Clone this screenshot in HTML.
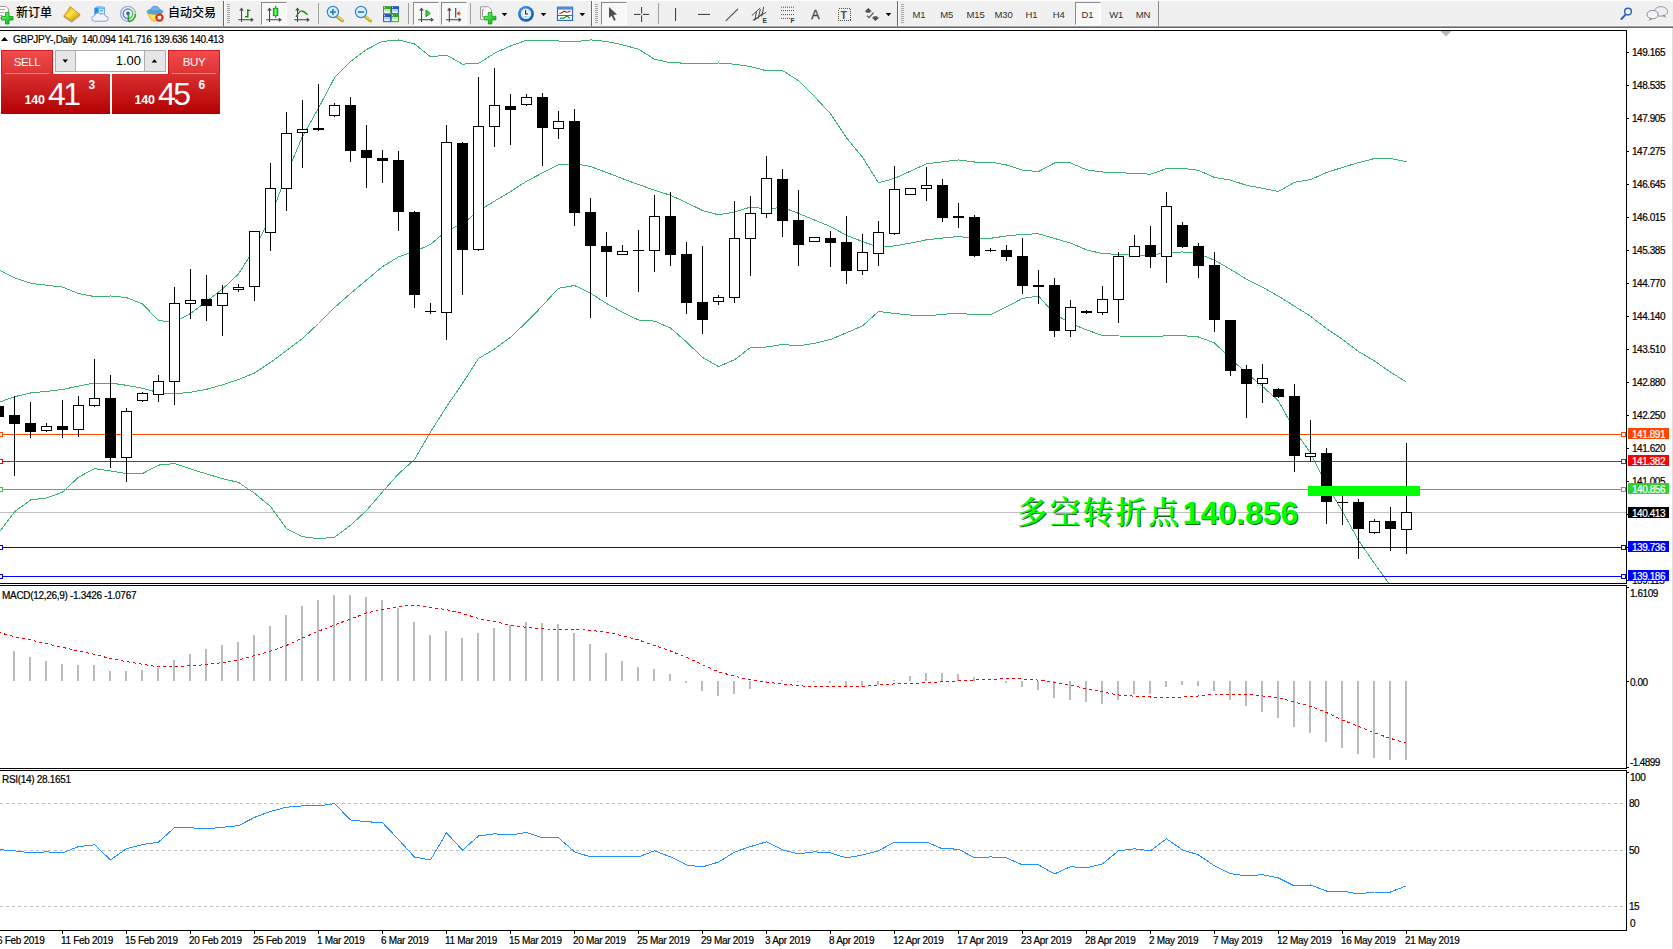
<!DOCTYPE html><html><head><meta charset="utf-8"><title>GBPJPY Daily</title><style>
html,body{margin:0;padding:0}
body{width:1673px;height:949px;overflow:hidden;background:#fff;position:relative;font-family:"Liberation Sans","Noto Sans CJK SC",sans-serif;}
.t{position:absolute;white-space:nowrap;color:#000;-webkit-text-stroke:0.2px #000;font-size:10px;letter-spacing:-0.45px;line-height:14px}
.pl{position:absolute;-webkit-text-stroke:0.2px #fff;left:1628px;width:41px;height:11px;color:#fff;font-size:10px;letter-spacing:-0.45px;line-height:13px;text-indent:4px;overflow:hidden;white-space:nowrap;box-sizing:border-box}
#tb{position:absolute;left:0;top:0;width:1673px;height:25px;background:#f0f0f0}
.tbt{position:absolute;top:5px;font-size:12px;line-height:16px;color:#000;font-weight:500;white-space:nowrap;font-family:"Liberation Sans","Noto Sans CJK SC",sans-serif}
.tf{position:absolute;top:8.6px;font-size:9.5px;line-height:12px;color:#303030;white-space:nowrap;letter-spacing:-0.15px}
.sep{position:absolute;top:3px;width:1px;height:20px;background:#a0a0a0}
.grip{position:absolute;top:3px;width:3px;height:20px;background:repeating-linear-gradient(to bottom,#a8a8a8 0,#a8a8a8 1px,#f0f0f0 1px,#f0f0f0 2px)}
.pressed{position:absolute;top:2px;height:23px;box-sizing:border-box;border:1px solid #fff;border-top-color:#8c8c8c;border-left-color:#8c8c8c;background:#f8f8f8}
</style></head><body>
<div id="tb"></div><div style="position:absolute;left:0;top:0;width:1673px;height:1px;background:#fff"></div>
<div style="position:absolute;left:0;top:25px;width:1673px;height:1px;background:#f5f5f5"></div>
<div style="position:absolute;left:0;top:26px;width:1673px;height:1px;background:#a0a0a0"></div>
<div style="position:absolute;left:0;top:27px;width:1673px;height:1px;background:#696969"></div>
<div style="position:absolute;left:1672px;top:28px;width:1px;height:921px;background:#e0e0e0"></div>
<div class="pressed" style="left:261px;width:26px"></div>
<div class="pressed" style="left:413px;width:26px"></div>
<div class="pressed" style="left:441px;width:26px"></div>
<div class="pressed" style="left:601px;width:26px"></div>
<div class="pressed" style="left:1075px;width:26px"></div>
<svg width="1673" height="28" viewBox="0 0 1673 28" style="position:absolute;left:0;top:0">
<defs><linearGradient id="gplus" x1="0" y1="0" x2="1" y2="1"><stop offset="0" stop-color="#7dff7d"/><stop offset="1" stop-color="#00a800"/></linearGradient><linearGradient id="ggold" x1="0" y1="0" x2="1" y2="1"><stop offset="0" stop-color="#c89018"/><stop offset=".45" stop-color="#ffe23c"/><stop offset="1" stop-color="#c08a10"/></linearGradient><linearGradient id="gblue" x1="0" y1="0" x2="1" y2="0"><stop offset="0" stop-color="#1e8cf0"/><stop offset="1" stop-color="#6ab8ff"/></linearGradient><linearGradient id="gsig" x1="0" y1="0" x2="1" y2="0"><stop offset="0" stop-color="#2a5fd0"/><stop offset=".5" stop-color="#3a78c8"/><stop offset="1" stop-color="#38a838"/></linearGradient><radialGradient id="gclk" cx=".4" cy=".35" r=".7"><stop offset="0" stop-color="#4aa8ff"/><stop offset="1" stop-color="#0a58b8"/></radialGradient><linearGradient id="ggr" x1="0" y1="0" x2="0" y2="1"><stop offset="0" stop-color="#2a9a2a"/><stop offset="1" stop-color="#5ab82a"/></linearGradient><linearGradient id="gbl" x1="0" y1="0" x2="0" y2="1"><stop offset="0" stop-color="#1848c0"/><stop offset="1" stop-color="#3a78e8"/></linearGradient><linearGradient id="gcand" x1="0" y1="0" x2="1" y2="0"><stop offset="0" stop-color="#00b000"/><stop offset=".5" stop-color="#80ff80"/><stop offset="1" stop-color="#00b000"/></linearGradient></defs>
<rect x="223" y="1" width="1" height="25" fill="#6a6a6a"/><rect x="224" y="1" width="1" height="25" fill="#fbfbfb"/>
<rect x="591" y="1" width="1" height="25" fill="#6a6a6a"/><rect x="592" y="1" width="1" height="25" fill="#fbfbfb"/>
<rect x="897" y="1" width="1" height="25" fill="#6a6a6a"/><rect x="898" y="1" width="1" height="25" fill="#fbfbfb"/>
<rect x="1158" y="1" width="1" height="25" fill="#8a8a8a"/>
<rect x="318" y="3" width="1" height="21" fill="#a0a0a0"/>
<rect x="408" y="3" width="1" height="21" fill="#a0a0a0"/>
<rect x="470" y="3" width="1" height="21" fill="#a0a0a0"/>
<rect x="658" y="3" width="1" height="21" fill="#a0a0a0"/>
<rect x="227" y="4" width="3" height="1" fill="#a6a6a6"/>
<rect x="227" y="6" width="3" height="1" fill="#a6a6a6"/>
<rect x="227" y="8" width="3" height="1" fill="#a6a6a6"/>
<rect x="227" y="10" width="3" height="1" fill="#a6a6a6"/>
<rect x="227" y="12" width="3" height="1" fill="#a6a6a6"/>
<rect x="227" y="14" width="3" height="1" fill="#a6a6a6"/>
<rect x="227" y="16" width="3" height="1" fill="#a6a6a6"/>
<rect x="227" y="18" width="3" height="1" fill="#a6a6a6"/>
<rect x="227" y="20" width="3" height="1" fill="#a6a6a6"/>
<rect x="227" y="22" width="3" height="1" fill="#a6a6a6"/>
<rect x="595" y="4" width="3" height="1" fill="#a6a6a6"/>
<rect x="595" y="6" width="3" height="1" fill="#a6a6a6"/>
<rect x="595" y="8" width="3" height="1" fill="#a6a6a6"/>
<rect x="595" y="10" width="3" height="1" fill="#a6a6a6"/>
<rect x="595" y="12" width="3" height="1" fill="#a6a6a6"/>
<rect x="595" y="14" width="3" height="1" fill="#a6a6a6"/>
<rect x="595" y="16" width="3" height="1" fill="#a6a6a6"/>
<rect x="595" y="18" width="3" height="1" fill="#a6a6a6"/>
<rect x="595" y="20" width="3" height="1" fill="#a6a6a6"/>
<rect x="595" y="22" width="3" height="1" fill="#a6a6a6"/>
<rect x="901" y="4" width="3" height="1" fill="#a6a6a6"/>
<rect x="901" y="6" width="3" height="1" fill="#a6a6a6"/>
<rect x="901" y="8" width="3" height="1" fill="#a6a6a6"/>
<rect x="901" y="10" width="3" height="1" fill="#a6a6a6"/>
<rect x="901" y="12" width="3" height="1" fill="#a6a6a6"/>
<rect x="901" y="14" width="3" height="1" fill="#a6a6a6"/>
<rect x="901" y="16" width="3" height="1" fill="#a6a6a6"/>
<rect x="901" y="18" width="3" height="1" fill="#a6a6a6"/>
<rect x="901" y="20" width="3" height="1" fill="#a6a6a6"/>
<rect x="901" y="22" width="3" height="1" fill="#a6a6a6"/>
<path d="M-1,6.5 H6 L8.5,9 V18 H-1 Z" fill="#fafafa" stroke="#9a9a9a" stroke-width="1"/>
<path d="M0,9.5 H5 M0,12.5 H4 M0,15.5 H3" stroke="#b0b0b0" stroke-width="1"/>
<path d="M5.5,12.5 h3.5 v4 h4 v3.5 h-4 v4 h-3.5 v-4 h-4 v-3.5 h4 z" fill="url(#gplus)" stroke="#0a9a0a" stroke-width=".8"/>
<path d="M70.2,6.8 Q67.5,11.8 64,15.8 L64,17 L71.8,22.2 L79.9,15.6 L79.9,14.4 Z" fill="#b8821c" stroke="#a8741a" stroke-width=".6" stroke-linejoin="round"/>
<path d="M70.2,6.8 Q67.5,11.8 64,15.6 L71.8,20.6 L79.8,14.4 Z" fill="url(#ggold)" stroke="#c08a1c" stroke-width=".5" stroke-linejoin="round"/>
<path d="M64.4,16.6 L71.8,21.4 L79.6,15.2" fill="none" stroke="#f0dc98" stroke-width=".6"/>
<polygon points="94.4,8 98,6 98,15.5 94.4,15.5" fill="#1e8cf0"/><polygon points="98,6 105,7 105,15.5 98,15.5" fill="#58aefc"/><polygon points="94.4,8 98,6 105,7 101.4,8.8" fill="#8accff" opacity=".7"/>
<polygon points="99.2,8.8 104,9.2 104,13.4 99.2,13.4" fill="#eaf4ff"/><rect x="100" y="10.2" width="3.2" height="1" fill="#3a88e0"/>
<path d="M94.4,21.2 a2.7,2.7 0 0 1 0.2,-5.4 a3.4,3.4 0 0 1 6.2,-1.4 a3.1,3.1 0 0 1 4.8,1.8 a2.5,2.5 0 0 1 0,5 Z" fill="#f2f6fc" stroke="#8aa2cc" stroke-width="1"/>
<g fill="none" stroke="url(#gsig)"><circle cx="128" cy="13.8" r="7.5" stroke-width="1.2" opacity=".5"/><circle cx="128" cy="13.8" r="4.8" stroke-width="1.4" opacity=".8"/></g>
<circle cx="128" cy="13.4" r="1.8" fill="#2a5fd0"/><rect x="127.6" y="13.5" width="1.6" height="8.2" fill="#28a028"/>
<path d="M129,21.6 A7.6,7.6 0 0 0 135.5,14" fill="none" stroke="#38a838" stroke-width="1.6"/>
<path d="M147.8,13.5 L162,12.5 L160,18 L155,21.5 L151,19.5 Z" fill="#ffe24a" stroke="#d8a018" stroke-width=".8"/>
<ellipse cx="155" cy="11.6" rx="8" ry="2.6" fill="#5aa6dc" stroke="#3a84c0" stroke-width=".6"/>
<path d="M150.5,11 Q151,6 155,6.3 Q159.5,6 160,11 Z" fill="#6cb4e6" stroke="#3a84c0" stroke-width=".6"/>
<circle cx="159.5" cy="17.6" r="4.2" fill="#e02810"/><rect x="157.7" y="15.8" width="3.6" height="3.6" fill="#fff"/>
<g fill="#484848"><rect x="241.0" y="9" width="1.05" height="13"/><rect x="238.3" y="19.2" width="14" height="1.05"/><polygon points="241.5,7.6 239.20000000000002,10.6 243.8,10.6"/><polygon points="253.8,19.7 250.8,17.4 250.8,22"/></g>
<path d="M247.8,9.2 V17.6 M247.8,10.4 H250.4 M245,16.6 H247.8" stroke="#0a8a0a" stroke-width="1.4" fill="none"/>
<g fill="#484848"><rect x="269.0" y="9" width="1.05" height="13"/><rect x="266.3" y="19.2" width="14" height="1.05"/><polygon points="269.5,7.6 267.2,10.6 271.8,10.6"/><polygon points="281.8,19.7 278.8,17.4 278.8,22"/></g>
<rect x="275" y="6" width="1.2" height="11.8" fill="#0a9a0a"/><rect x="273.3" y="8.3" width="4.6" height="7.4" fill="url(#gcand)" stroke="#0a9a0a" stroke-width=".8"/>
<g fill="#484848"><rect x="297.0" y="9" width="1.05" height="13"/><rect x="294.3" y="19.2" width="14" height="1.05"/><polygon points="297.5,7.6 295.2,10.6 299.8,10.6"/><polygon points="309.8,19.7 306.8,17.4 306.8,22"/></g>
<path d="M296,16.8 Q300,10.5 302.2,11 Q304.5,11.5 307.6,14.8" stroke="#1a8a1a" stroke-width="1.3" fill="none"/>
<path d="M336.9,16.6 L342.29999999999995,20.8" stroke="#c8a018" stroke-width="3.2" stroke-linecap="round"/>
<path d="M337.29999999999995,16.2 L342.5,20.2" stroke="#f4e058" stroke-width="1.2" stroke-linecap="round"/>
<circle cx="332.9" cy="12" r="5.6" fill="#d4eefb" stroke="#3a88c8" stroke-width="1.2"/>
<rect x="329.9" y="11.2" width="6" height="1.7" fill="#3a7fae"/>
<rect x="332.04999999999995" y="9" width="1.7" height="6" fill="#3a7fae"/>
<path d="M365,16.6 L370.4,20.8" stroke="#c8a018" stroke-width="3.2" stroke-linecap="round"/>
<path d="M365.4,16.2 L370.6,20.2" stroke="#f4e058" stroke-width="1.2" stroke-linecap="round"/>
<circle cx="361" cy="12" r="5.6" fill="#d4eefb" stroke="#3a88c8" stroke-width="1.2"/>
<rect x="358" y="11.2" width="6" height="1.7" fill="#3a7fae"/>
<rect x="383" y="6.2" width="8" height="8" fill="url(#ggr)"/><rect x="384.2" y="9.2" width="5.6" height="3.8" fill="#f4f8ff"/><rect x="385.2" y="10.2" width="3.6" height="1" fill="#9ad07a"/><rect x="384" y="7.2" width="1" height="1" fill="#fff"/>
<rect x="391" y="6.2" width="8" height="8" fill="url(#gbl)"/><rect x="392.2" y="9.2" width="5.6" height="3.8" fill="#f4f8ff"/><rect x="393.2" y="10.2" width="3.6" height="1" fill="#8ab0f0"/><rect x="392" y="7.2" width="1" height="1" fill="#fff"/>
<rect x="383" y="14.2" width="8" height="8" fill="url(#gbl)"/><rect x="384.2" y="17.2" width="5.6" height="3.8" fill="#f4f8ff"/><rect x="385.2" y="18.2" width="3.6" height="1" fill="#8ab0f0"/><rect x="384" y="15.2" width="1" height="1" fill="#fff"/>
<rect x="391" y="14.2" width="8" height="8" fill="url(#ggr)"/><rect x="392.2" y="17.2" width="5.6" height="3.8" fill="#f4f8ff"/><rect x="393.2" y="18.2" width="3.6" height="1" fill="#9ad07a"/><rect x="392" y="15.2" width="1" height="1" fill="#fff"/>
<g fill="#484848"><rect x="421.0" y="9" width="1.05" height="13"/><rect x="418.3" y="19.2" width="14" height="1.05"/><polygon points="421.5,7.6 419.2,10.6 423.8,10.6"/><polygon points="433.8,19.7 430.8,17.4 430.8,22"/></g>
<polygon points="426,10 426,16.8 430.2,13.4" fill="#50d050" stroke="#0a9a0a" stroke-width="1"/>
<g fill="#484848"><rect x="448.8" y="9" width="1.05" height="13"/><rect x="446.1" y="19.2" width="14" height="1.05"/><polygon points="449.3,7.6 447.0,10.6 451.6,10.6"/><polygon points="461.6,19.7 458.6,17.4 458.6,22"/></g>
<rect x="455" y="8" width="1.3" height="9.6" fill="#1a6aa8"/><polygon points="456.8,13.4 459.4,11.4 459,13 461,13.4 459,13.8 459.4,15.4" fill="#e04a10" stroke="#e04a10" stroke-width=".6"/>
<path d="M480.5,6.8 H488.5 L491.5,9.6 V19.4 H480.5 Z" fill="#fcfcfc" stroke="#9a9a9a" stroke-width="1"/><path d="M484,9 q-1.6,0 -1.6,2 v4.5 q0,2 1.6,2" fill="none" stroke="#807860" stroke-width=".9"/>
<path d="M488.3,12.5 h3.6 v3.8 h4 v3.6 h-4 v4 h-3.6 v-4 h-4 v-3.6 h4 z" fill="url(#gplus)" stroke="#0a9a0a" stroke-width=".8"/>
<polygon points="501.7,13 507.3,13 504.5,16.2" fill="#000"/>
<polygon points="540.7,13 546.3,13 543.5,16.2" fill="#000"/>
<polygon points="579.5,13 585.0999999999999,13 582.3,16.2" fill="#000"/>
<polygon points="885.7,13 891.3,13 888.5,16.2" fill="#000"/>
<circle cx="526" cy="13.8" r="7.9" fill="url(#gclk)"/><circle cx="526" cy="13.8" r="5.2" fill="#f4f8fc"/>
<path d="M525.6,10.2 V14 H528.2" stroke="#202020" stroke-width="1.1" fill="none"/>
<g fill="#7a8a9a"><rect x="525.6" y="9.2" width=".8" height=".9"/><rect x="525.6" y="17.6" width=".8" height=".9"/><rect x="521.6" y="13.5" width=".9" height=".8"/><rect x="529.6" y="13.5" width=".9" height=".8"/><rect x="523" y="10.6" width=".7" height=".7"/><rect x="528.6" y="10.6" width=".7" height=".7"/><rect x="523" y="16.4" width=".7" height=".7"/><rect x="528.6" y="16.4" width=".7" height=".7"/></g>
<rect x="524.6" y="16.2" width="2.6" height=".8" fill="#6ab0f0"/>
<rect x="557.5" y="7.2" width="15" height="13.2" fill="#fff" stroke="#2a6ac8" stroke-width="1.2"/><rect x="557.5" y="7.2" width="15" height="2.4" fill="#4a8ae0"/><rect x="557.5" y="15" width="15" height="1" fill="#2a6ac8"/>
<path d="M559.5,13.4 l2,-.4 l1.6,-1.2 l1.6,-.6 l1.6,1 l2,-.2 l2,-1.2" stroke="#a02010" stroke-width="1.1" fill="none"/>
<path d="M560,18.4 l2,-.4 l1.4,.4 l2,-1.4 l1.6,-.8 l1.4,.8 l1.4,1.4" stroke="#1a8a1a" stroke-width="1.1" fill="none"/>
<polygon points="609,7 609,18 611.6,15.8 614,20.8 615.8,20 613.4,15 617,14.6" fill="#505050"/>
<g fill="#484848"><rect x="641" y="7" width="1.1" height="6.4"/><rect x="641" y="15.4" width="1.1" height="6.6"/><rect x="634" y="13.9" width="6.4" height="1.1"/><rect x="642.8" y="13.9" width="6.4" height="1.1"/></g>
<rect x="675" y="8" width="1.1" height="13" fill="#484848"/><rect x="698" y="13.9" width="12" height="1.1" fill="#484848"/>
<path d="M725.8,20.8 L738,8.8" stroke="#484848" stroke-width="1.1"/>
<g stroke="#484848" stroke-width="1" fill="none"><path d="M751.8,15.6 L760.2,8"/><path d="M752.8,20.4 L766.2,12.2"/><path d="M755.2,19.8 L763,13"/><path d="M754.6,20.6 L756.6,11.6"/><path d="M758,18.8 L760.4,9.2"/><path d="M761.6,16.4 L763.8,6.8"/></g>
<text x="762.6" y="22.8" font-family="Liberation Sans,sans-serif" font-size="6.5" font-weight="bold" fill="#303030">E</text>
<line x1="781" y1="7.2" x2="794.5" y2="7.2" stroke="#505050" stroke-width="1" stroke-dasharray="1,1"/>
<line x1="781" y1="10.6" x2="794.5" y2="10.6" stroke="#505050" stroke-width="1" stroke-dasharray="1,1"/>
<line x1="781" y1="14.6" x2="794.5" y2="14.6" stroke="#505050" stroke-width="1" stroke-dasharray="1,1"/>
<line x1="781" y1="18.4" x2="790" y2="18.4" stroke="#505050" stroke-width="1" stroke-dasharray="1,1"/>
<text x="790.6" y="22.8" font-family="Liberation Sans,sans-serif" font-size="6.5" font-weight="bold" fill="#303030">F</text>
<text x="811.2" y="19" font-family="Liberation Sans,sans-serif" font-size="12.5" fill="#484848" stroke="#484848" stroke-width=".35">A</text>
<rect x="838.5" y="8.5" width="12" height="12" fill="none" stroke="#505050" stroke-width="1" stroke-dasharray="1,1" shape-rendering="crispEdges"/>
<text x="840.4" y="18.6" font-family="Liberation Sans,sans-serif" font-size="10.5" font-weight="bold" fill="#505050">T</text>
<g fill="#505050"><polygon points="868.2,8 872,11.4 870.2,11.4 870.2,12.8 866.2,12.8 866.2,11.4 864.6,11.4"/><polygon points="875.4,21 879.4,17.4 877.4,17.4 877.4,16.2 873.4,16.2 873.4,17.4 871.6,17.4"/></g>
<path d="M867,15.6 l2,2 l4.6,-5" stroke="#505050" stroke-width="1.2" fill="none"/>
<path d="M1625.6,14.6 L1621.4,19" stroke="#2a5fc4" stroke-width="2" stroke-linecap="round"/><circle cx="1628" cy="11.6" r="3.4" fill="#f4f8ff" stroke="#2a5fc4" stroke-width="1.4"/>
<ellipse cx="1661" cy="11.4" rx="6.6" ry="4.8" fill="#ececf4" stroke="#9a9a9a" stroke-width="1"/><polygon points="1662,15.6 1666,18 1664.6,15" fill="#8a8a8a"/>
<ellipse cx="1652.6" cy="14.6" rx="5.6" ry="4.2" fill="#f4f4fa" stroke="#8a8a8a" stroke-width="1"/><polygon points="1650,18.2 1649,21 1652.6,18.6" fill="#808080"/>
</svg>
<div class="tbt" style="left:16px">新订单</div>
<div class="tbt" style="left:168px">自动交易</div>
<div class="tf" style="left:899px;width:40px;text-align:center">M1</div>
<div class="tf" style="left:926.8px;width:40px;text-align:center">M5</div>
<div class="tf" style="left:955.5px;width:40px;text-align:center">M15</div>
<div class="tf" style="left:983.5px;width:40px;text-align:center">M30</div>
<div class="tf" style="left:1011.5px;width:40px;text-align:center">H1</div>
<div class="tf" style="left:1038.8px;width:40px;text-align:center">H4</div>
<div class="tf" style="left:1067.4px;width:40px;text-align:center">D1</div>
<div class="tf" style="left:1096.2px;width:40px;text-align:center">W1</div>
<div class="tf" style="left:1123px;width:40px;text-align:center">MN</div>
<svg id="chart" width="1673" height="949" viewBox="0 0 1673 949" style="position:absolute;left:0;top:0" shape-rendering="crispEdges">
<defs><clipPath id="cm"><rect x="0" y="31" width="1626" height="552"/></clipPath><clipPath id="cmacd"><rect x="0" y="586" width="1626" height="182"/></clipPath><clipPath id="crsi"><rect x="0" y="771" width="1626" height="159"/></clipPath></defs>
<rect x="0" y="30" width="1627" height="1" fill="#000"/>
<rect x="1626" y="30" width="1" height="554" fill="#000"/>
<rect x="1626" y="585" width="1" height="184" fill="#000"/>
<rect x="1626" y="770" width="1" height="161" fill="#000"/>
<rect x="1627" y="587" width="2" height="1" fill="#000"/>
<rect x="1627" y="681" width="2" height="1" fill="#000"/>
<rect x="1627" y="767" width="2" height="1" fill="#000"/>
<rect x="1627" y="772" width="2" height="1" fill="#000"/>
<rect x="0" y="583" width="1627" height="1" fill="#000"/>
<rect x="0" y="585" width="1627" height="1" fill="#000"/>
<rect x="0" y="768" width="1627" height="1" fill="#000"/>
<rect x="0" y="770" width="1627" height="1" fill="#000"/>
<rect x="0" y="930" width="1627" height="1" fill="#000"/>
<g clip-path="url(#cm)">
<rect x="0" y="512" width="1626" height="1" fill="#c0c0c0"/>
<polyline points="-1.5,269.8 14.5,277.7 30.5,283.3 46.5,285.2 62.5,287.1 78.5,293.5 94.5,296.6 110.5,296.0 126.5,297.6 142.5,303.9 158.5,320.6 174.5,322.2 190.5,313.5 206.5,301.5 222.5,289.0 238.5,274.0 254.5,248.6 270.5,217.0 286.5,174.3 302.5,136.4 318.5,108.2 334.5,77.8 350.5,61.6 366.5,49.5 382.5,41.4 398.5,40.0 414.5,43.9 430.5,56.8 446.5,55.1 462.5,64.1 478.5,63.5 494.5,53.2 510.5,46.0 526.5,40.2 542.5,40.1 558.5,41.0 574.5,41.8 590.5,39.9 606.5,41.5 622.5,44.8 638.5,49.2 654.5,59.2 670.5,62.7 686.5,63.2 702.5,63.6 718.5,63.0 734.5,64.2 750.5,66.5 766.5,70.8 782.5,70.5 798.5,80.7 814.5,96.6 830.5,113.8 846.5,137.8 862.5,157.2 878.5,182.8 894.5,178.4 910.5,171.1 926.5,163.8 942.5,161.8 958.5,159.9 974.5,162.0 990.5,162.0 1006.5,165.0 1022.5,170.2 1038.5,171.6 1054.5,163.0 1070.5,162.9 1086.5,169.8 1102.5,172.0 1118.5,172.7 1134.5,173.4 1150.5,174.2 1166.5,168.6 1182.5,168.3 1198.5,170.3 1214.5,177.4 1230.5,180.1 1246.5,185.3 1262.5,188.2 1278.5,191.5 1294.5,182.2 1310.5,179.6 1326.5,172.6 1342.5,167.4 1358.5,162.6 1374.5,158.5 1390.5,158.5 1406.5,161.8" fill="none" stroke="#3cb371" stroke-width="1" shape-rendering="crispEdges" />
<polyline points="-1.5,402.5 14.5,396.7 30.5,393.0 46.5,391.4 62.5,389.5 78.5,386.1 94.5,383.0 110.5,383.0 126.5,385.3 142.5,388.2 158.5,392.7 174.5,394.0 190.5,392.2 206.5,389.3 222.5,384.8 238.5,379.5 254.5,373.0 270.5,362.4 286.5,350.5 302.5,338.5 318.5,323.5 334.5,307.5 350.5,293.5 366.5,280.1 382.5,266.6 398.5,256.9 414.5,251.7 430.5,244.4 446.5,230.9 462.5,223.8 478.5,211.0 494.5,201.1 510.5,191.6 526.5,181.2 542.5,172.9 558.5,164.6 574.5,163.7 590.5,166.5 606.5,172.5 622.5,178.6 638.5,184.6 654.5,190.1 670.5,195.3 686.5,202.6 702.5,210.5 718.5,214.8 734.5,212.0 750.5,207.1 766.5,208.9 782.5,207.4 798.5,213.4 814.5,220.0 830.5,226.6 846.5,235.3 862.5,241.6 878.5,247.1 894.5,245.9 910.5,243.1 926.5,239.8 942.5,238.1 958.5,236.5 974.5,238.5 990.5,238.3 1006.5,236.0 1022.5,234.3 1038.5,233.8 1054.5,238.4 1070.5,243.1 1086.5,249.8 1102.5,253.7 1118.5,254.3 1134.5,254.8 1150.5,255.5 1166.5,252.2 1182.5,252.0 1198.5,253.6 1214.5,260.2 1230.5,269.3 1246.5,279.2 1262.5,287.2 1278.5,296.2 1294.5,306.2 1310.5,316.3 1326.5,328.6 1342.5,339.4 1358.5,351.5 1374.5,361.0 1390.5,372.1 1406.5,382.1" fill="none" stroke="#3cb371" stroke-width="1" shape-rendering="crispEdges" />
<polyline points="-1.5,533.1 14.5,511.8 30.5,500.0 46.5,498.0 62.5,492.2 78.5,477.2 94.5,468.6 110.5,470.9 126.5,473.6 142.5,473.6 158.5,465.1 174.5,463.6 190.5,468.9 206.5,473.9 222.5,478.7 238.5,482.4 254.5,493.2 270.5,506.5 286.5,528.6 302.5,536.7 318.5,538.7 334.5,537.2 350.5,525.3 366.5,510.6 382.5,491.8 398.5,473.8 414.5,459.6 430.5,432.0 446.5,406.8 462.5,383.4 478.5,358.5 494.5,349.0 510.5,337.2 526.5,322.2 542.5,305.7 558.5,288.2 574.5,285.5 590.5,293.2 606.5,303.4 622.5,312.3 638.5,320.0 654.5,321.1 670.5,328.0 686.5,342.0 702.5,357.5 718.5,366.6 734.5,359.7 750.5,347.6 766.5,347.0 782.5,344.4 798.5,346.0 814.5,343.3 830.5,339.5 846.5,332.8 862.5,325.9 878.5,311.5 894.5,313.5 910.5,315.1 926.5,315.8 942.5,314.4 958.5,313.1 974.5,314.9 990.5,314.6 1006.5,306.9 1022.5,298.4 1038.5,296.0 1054.5,313.8 1070.5,323.3 1086.5,329.9 1102.5,335.5 1118.5,336.0 1134.5,336.2 1150.5,336.7 1166.5,335.8 1182.5,335.6 1198.5,337.0 1214.5,342.9 1230.5,358.5 1246.5,373.1 1262.5,386.3 1278.5,400.9 1294.5,430.1 1310.5,453.0 1326.5,484.6 1342.5,511.4 1358.5,540.4 1374.5,563.6 1390.5,585.7 1406.5,602.3" fill="none" stroke="#3cb371" stroke-width="1" shape-rendering="crispEdges" />
<rect x="0" y="434" width="1626" height="1" fill="#ff4500"/>
<rect x="0" y="461" width="1626" height="1" fill="#ff0000"/>
<rect x="0" y="489" width="1626" height="1" fill="#32cd32"/>
<rect x="0" y="547" width="1626" height="1" fill="#0000ff"/>
<rect x="0" y="576" width="1626" height="1" fill="#0000ff"/>
<rect x="-2" y="406" width="1" height="11" fill="#000"/>
<rect x="-7" y="406" width="11" height="11" fill="#000"/>
<rect x="14" y="396" width="1" height="80" fill="#000"/>
<rect x="9" y="415" width="11" height="9" fill="#000"/>
<rect x="30" y="402" width="1" height="36" fill="#000"/>
<rect x="25" y="423" width="11" height="9" fill="#000"/>
<rect x="46" y="423" width="1" height="9" fill="#000"/>
<rect x="41.5" y="426.5" width="10" height="4" fill="#fff" stroke="#000" stroke-width="1"/>
<rect x="62" y="400" width="1" height="38" fill="#000"/>
<rect x="57" y="426" width="11" height="4" fill="#000"/>
<rect x="78" y="396" width="1" height="41" fill="#000"/>
<rect x="73.5" y="405.5" width="10" height="24" fill="#fff" stroke="#000" stroke-width="1"/>
<rect x="94" y="359" width="1" height="48" fill="#000"/>
<rect x="89.5" y="398.5" width="10" height="7" fill="#fff" stroke="#000" stroke-width="1"/>
<rect x="110" y="375" width="1" height="93" fill="#000"/>
<rect x="105" y="398" width="11" height="60" fill="#000"/>
<rect x="126" y="408" width="1" height="74" fill="#000"/>
<rect x="121.5" y="411.5" width="10" height="46" fill="#fff" stroke="#000" stroke-width="1"/>
<rect x="142" y="392" width="1" height="10" fill="#000"/>
<rect x="137.5" y="393.5" width="10" height="7" fill="#fff" stroke="#000" stroke-width="1"/>
<rect x="158" y="375" width="1" height="27" fill="#000"/>
<rect x="153.5" y="381.5" width="10" height="13" fill="#fff" stroke="#000" stroke-width="1"/>
<rect x="174" y="287" width="1" height="118" fill="#000"/>
<rect x="169.5" y="303.5" width="10" height="78" fill="#fff" stroke="#000" stroke-width="1"/>
<rect x="190" y="269" width="1" height="50" fill="#000"/>
<rect x="185.5" y="300.5" width="10" height="3" fill="#fff" stroke="#000" stroke-width="1"/>
<rect x="206" y="275" width="1" height="46" fill="#000"/>
<rect x="201" y="299" width="11" height="7" fill="#000"/>
<rect x="222" y="285" width="1" height="51" fill="#000"/>
<rect x="217.5" y="293.5" width="10" height="12" fill="#fff" stroke="#000" stroke-width="1"/>
<rect x="238" y="284" width="1" height="8" fill="#000"/>
<rect x="233.5" y="287.5" width="10" height="2" fill="#fff" stroke="#000" stroke-width="1"/>
<rect x="254" y="231" width="1" height="70" fill="#000"/>
<rect x="249.5" y="231.5" width="10" height="55" fill="#fff" stroke="#000" stroke-width="1"/>
<rect x="270" y="163" width="1" height="88" fill="#000"/>
<rect x="265.5" y="188.5" width="10" height="44" fill="#fff" stroke="#000" stroke-width="1"/>
<rect x="286" y="112" width="1" height="99" fill="#000"/>
<rect x="281.5" y="133.5" width="10" height="55" fill="#fff" stroke="#000" stroke-width="1"/>
<rect x="302" y="100" width="1" height="68" fill="#000"/>
<rect x="297.5" y="129.5" width="10" height="3" fill="#fff" stroke="#000" stroke-width="1"/>
<rect x="318" y="84" width="1" height="47" fill="#000"/>
<rect x="313" y="128" width="11" height="2" fill="#000"/>
<rect x="334" y="103" width="1" height="14" fill="#000"/>
<rect x="329.5" y="105.5" width="10" height="10" fill="#fff" stroke="#000" stroke-width="1"/>
<rect x="350" y="97" width="1" height="65" fill="#000"/>
<rect x="345" y="105" width="11" height="46" fill="#000"/>
<rect x="366" y="125" width="1" height="63" fill="#000"/>
<rect x="361" y="150" width="11" height="8" fill="#000"/>
<rect x="382" y="150" width="1" height="33" fill="#000"/>
<rect x="377" y="158" width="11" height="3" fill="#000"/>
<rect x="398" y="151" width="1" height="80" fill="#000"/>
<rect x="393" y="160" width="11" height="52" fill="#000"/>
<rect x="414" y="211" width="1" height="97" fill="#000"/>
<rect x="409" y="212" width="11" height="83" fill="#000"/>
<rect x="430" y="303" width="1" height="11" fill="#000"/>
<rect x="425" y="311" width="11" height="1" fill="#000"/>
<rect x="446" y="125" width="1" height="215" fill="#000"/>
<rect x="441.5" y="142.5" width="10" height="170" fill="#fff" stroke="#000" stroke-width="1"/>
<rect x="462" y="142" width="1" height="153" fill="#000"/>
<rect x="457" y="143" width="11" height="107" fill="#000"/>
<rect x="478" y="77" width="1" height="174" fill="#000"/>
<rect x="473.5" y="126.5" width="10" height="123" fill="#fff" stroke="#000" stroke-width="1"/>
<rect x="494" y="68" width="1" height="79" fill="#000"/>
<rect x="489.5" y="105.5" width="10" height="21" fill="#fff" stroke="#000" stroke-width="1"/>
<rect x="510" y="94" width="1" height="51" fill="#000"/>
<rect x="505" y="106" width="11" height="4" fill="#000"/>
<rect x="526" y="94" width="1" height="12" fill="#000"/>
<rect x="521.5" y="97.5" width="10" height="7" fill="#fff" stroke="#000" stroke-width="1"/>
<rect x="542" y="93" width="1" height="73" fill="#000"/>
<rect x="537" y="97" width="11" height="31" fill="#000"/>
<rect x="558" y="111" width="1" height="28" fill="#000"/>
<rect x="553.5" y="121.5" width="10" height="7" fill="#fff" stroke="#000" stroke-width="1"/>
<rect x="574" y="109" width="1" height="117" fill="#000"/>
<rect x="569" y="121" width="11" height="92" fill="#000"/>
<rect x="590" y="198" width="1" height="120" fill="#000"/>
<rect x="585" y="212" width="11" height="34" fill="#000"/>
<rect x="606" y="232" width="1" height="65" fill="#000"/>
<rect x="601" y="246" width="11" height="6" fill="#000"/>
<rect x="622" y="245" width="1" height="10" fill="#000"/>
<rect x="617.5" y="251.5" width="10" height="3" fill="#fff" stroke="#000" stroke-width="1"/>
<rect x="638" y="230" width="1" height="62" fill="#000"/>
<rect x="633" y="250" width="11" height="1" fill="#000"/>
<rect x="654" y="195" width="1" height="77" fill="#000"/>
<rect x="649.5" y="216.5" width="10" height="34" fill="#fff" stroke="#000" stroke-width="1"/>
<rect x="670" y="192" width="1" height="74" fill="#000"/>
<rect x="665" y="216" width="11" height="39" fill="#000"/>
<rect x="686" y="242" width="1" height="72" fill="#000"/>
<rect x="681" y="254" width="11" height="49" fill="#000"/>
<rect x="702" y="246" width="1" height="88" fill="#000"/>
<rect x="697" y="302" width="11" height="18" fill="#000"/>
<rect x="718" y="295" width="1" height="10" fill="#000"/>
<rect x="713.5" y="297.5" width="10" height="4" fill="#fff" stroke="#000" stroke-width="1"/>
<rect x="734" y="201" width="1" height="102" fill="#000"/>
<rect x="729.5" y="238.5" width="10" height="59" fill="#fff" stroke="#000" stroke-width="1"/>
<rect x="750" y="196" width="1" height="80" fill="#000"/>
<rect x="745.5" y="213.5" width="10" height="25" fill="#fff" stroke="#000" stroke-width="1"/>
<rect x="766" y="156" width="1" height="62" fill="#000"/>
<rect x="761.5" y="178.5" width="10" height="35" fill="#fff" stroke="#000" stroke-width="1"/>
<rect x="782" y="169" width="1" height="68" fill="#000"/>
<rect x="777" y="179" width="11" height="42" fill="#000"/>
<rect x="798" y="190" width="1" height="76" fill="#000"/>
<rect x="793" y="220" width="11" height="25" fill="#000"/>
<rect x="814" y="237" width="1" height="5" fill="#000"/>
<rect x="809.5" y="237.5" width="10" height="4" fill="#fff" stroke="#000" stroke-width="1"/>
<rect x="830" y="231" width="1" height="36" fill="#000"/>
<rect x="825" y="238" width="11" height="5" fill="#000"/>
<rect x="846" y="216" width="1" height="68" fill="#000"/>
<rect x="841" y="242" width="11" height="29" fill="#000"/>
<rect x="862" y="234" width="1" height="41" fill="#000"/>
<rect x="857.5" y="252.5" width="10" height="18" fill="#fff" stroke="#000" stroke-width="1"/>
<rect x="878" y="221" width="1" height="45" fill="#000"/>
<rect x="873.5" y="232.5" width="10" height="21" fill="#fff" stroke="#000" stroke-width="1"/>
<rect x="894" y="166" width="1" height="69" fill="#000"/>
<rect x="889.5" y="189.5" width="10" height="44" fill="#fff" stroke="#000" stroke-width="1"/>
<rect x="910" y="188" width="1" height="7" fill="#000"/>
<rect x="905.5" y="188.5" width="10" height="6" fill="#fff" stroke="#000" stroke-width="1"/>
<rect x="926" y="167" width="1" height="34" fill="#000"/>
<rect x="921.5" y="185.5" width="10" height="3" fill="#fff" stroke="#000" stroke-width="1"/>
<rect x="942" y="179" width="1" height="43" fill="#000"/>
<rect x="937" y="185" width="11" height="33" fill="#000"/>
<rect x="958" y="203" width="1" height="25" fill="#000"/>
<rect x="953" y="216" width="11" height="2" fill="#000"/>
<rect x="974" y="215" width="1" height="42" fill="#000"/>
<rect x="969" y="217" width="11" height="39" fill="#000"/>
<rect x="990" y="248" width="1" height="4" fill="#000"/>
<rect x="985" y="250" width="11" height="1" fill="#000"/>
<rect x="1006" y="245" width="1" height="16" fill="#000"/>
<rect x="1001" y="250" width="11" height="7" fill="#000"/>
<rect x="1022" y="238" width="1" height="56" fill="#000"/>
<rect x="1017" y="256" width="11" height="30" fill="#000"/>
<rect x="1038" y="270" width="1" height="34" fill="#000"/>
<rect x="1033" y="285" width="11" height="2" fill="#000"/>
<rect x="1054" y="278" width="1" height="59" fill="#000"/>
<rect x="1049" y="285" width="11" height="46" fill="#000"/>
<rect x="1070" y="300" width="1" height="37" fill="#000"/>
<rect x="1065.5" y="307.5" width="10" height="23" fill="#fff" stroke="#000" stroke-width="1"/>
<rect x="1086" y="310" width="1" height="4" fill="#000"/>
<rect x="1081" y="311" width="11" height="2" fill="#000"/>
<rect x="1102" y="286" width="1" height="29" fill="#000"/>
<rect x="1097.5" y="299.5" width="10" height="13" fill="#fff" stroke="#000" stroke-width="1"/>
<rect x="1118" y="252" width="1" height="71" fill="#000"/>
<rect x="1113.5" y="256.5" width="10" height="43" fill="#fff" stroke="#000" stroke-width="1"/>
<rect x="1134" y="235" width="1" height="22" fill="#000"/>
<rect x="1129.5" y="246.5" width="10" height="10" fill="#fff" stroke="#000" stroke-width="1"/>
<rect x="1150" y="226" width="1" height="42" fill="#000"/>
<rect x="1145" y="245" width="11" height="12" fill="#000"/>
<rect x="1166" y="192" width="1" height="91" fill="#000"/>
<rect x="1161.5" y="206.5" width="10" height="50" fill="#fff" stroke="#000" stroke-width="1"/>
<rect x="1182" y="222" width="1" height="26" fill="#000"/>
<rect x="1177" y="225" width="11" height="22" fill="#000"/>
<rect x="1198" y="243" width="1" height="35" fill="#000"/>
<rect x="1193" y="246" width="11" height="20" fill="#000"/>
<rect x="1214" y="252" width="1" height="80" fill="#000"/>
<rect x="1209" y="265" width="11" height="55" fill="#000"/>
<rect x="1230" y="320" width="1" height="56" fill="#000"/>
<rect x="1225" y="320" width="11" height="51" fill="#000"/>
<rect x="1246" y="365" width="1" height="53" fill="#000"/>
<rect x="1241" y="369" width="11" height="15" fill="#000"/>
<rect x="1262" y="364" width="1" height="39" fill="#000"/>
<rect x="1257.5" y="378.5" width="10" height="5" fill="#fff" stroke="#000" stroke-width="1"/>
<rect x="1278" y="388" width="1" height="10" fill="#000"/>
<rect x="1273" y="389" width="11" height="8" fill="#000"/>
<rect x="1294" y="384" width="1" height="88" fill="#000"/>
<rect x="1289" y="396" width="11" height="60" fill="#000"/>
<rect x="1310" y="420" width="1" height="42" fill="#000"/>
<rect x="1305.5" y="453.5" width="10" height="3" fill="#fff" stroke="#000" stroke-width="1"/>
<rect x="1326" y="448" width="1" height="76" fill="#000"/>
<rect x="1321" y="453" width="11" height="49" fill="#000"/>
<rect x="1342" y="496" width="1" height="29" fill="#000"/>
<rect x="1337" y="502" width="11" height="1" fill="#000"/>
<rect x="1358" y="499" width="1" height="60" fill="#000"/>
<rect x="1353" y="502" width="11" height="27" fill="#000"/>
<rect x="1374" y="519" width="1" height="15" fill="#000"/>
<rect x="1369.5" y="521.5" width="10" height="11" fill="#fff" stroke="#000" stroke-width="1"/>
<rect x="1390" y="507" width="1" height="44" fill="#000"/>
<rect x="1385" y="521" width="11" height="8" fill="#000"/>
<rect x="1406" y="443" width="1" height="111" fill="#000"/>
<rect x="1401.5" y="512.5" width="10" height="17" fill="#fff" stroke="#000" stroke-width="1"/>
<rect x="1308" y="486" width="112" height="10" fill="#00ff00"/>
<rect x="-1.5" y="432.5" width="4" height="4" fill="#fff" stroke="#ff4500" stroke-width="1"/>
<rect x="1621.5" y="432.5" width="4" height="4" fill="#fff" stroke="#ff4500" stroke-width="1"/>
<rect x="-1.5" y="459.5" width="4" height="4" fill="#fff" stroke="#ff0000" stroke-width="1"/>
<rect x="1621.5" y="459.5" width="4" height="4" fill="#fff" stroke="#ff0000" stroke-width="1"/>
<rect x="-1.5" y="487.5" width="4" height="4" fill="#fff" stroke="#32cd32" stroke-width="1"/>
<rect x="1621.5" y="487.5" width="4" height="4" fill="#fff" stroke="#32cd32" stroke-width="1"/>
<rect x="-1.5" y="545.5" width="4" height="4" fill="#fff" stroke="#0000ff" stroke-width="1"/>
<rect x="1621.5" y="545.5" width="4" height="4" fill="#fff" stroke="#0000ff" stroke-width="1"/>
<rect x="-1.5" y="574.5" width="4" height="4" fill="#fff" stroke="#0000ff" stroke-width="1"/>
<rect x="1621.5" y="574.5" width="4" height="4" fill="#fff" stroke="#0000ff" stroke-width="1"/>
</g>
<g clip-path="url(#cmacd)">
<rect x="13" y="651" width="2" height="30" fill="#bababa"/>
<rect x="29" y="657" width="2" height="24" fill="#bababa"/>
<rect x="45" y="661" width="2" height="20" fill="#bababa"/>
<rect x="61" y="664" width="2" height="17" fill="#bababa"/>
<rect x="77" y="665" width="2" height="16" fill="#bababa"/>
<rect x="93" y="665" width="2" height="16" fill="#bababa"/>
<rect x="109" y="671" width="2" height="10" fill="#bababa"/>
<rect x="125" y="671" width="2" height="10" fill="#bababa"/>
<rect x="141" y="670" width="2" height="11" fill="#bababa"/>
<rect x="157" y="668" width="2" height="13" fill="#bababa"/>
<rect x="173" y="660" width="2" height="21" fill="#bababa"/>
<rect x="189" y="654" width="2" height="27" fill="#bababa"/>
<rect x="205" y="649" width="2" height="32" fill="#bababa"/>
<rect x="221" y="645" width="2" height="36" fill="#bababa"/>
<rect x="237" y="642" width="2" height="39" fill="#bababa"/>
<rect x="253" y="635" width="2" height="46" fill="#bababa"/>
<rect x="269" y="626" width="2" height="55" fill="#bababa"/>
<rect x="285" y="615" width="2" height="66" fill="#bababa"/>
<rect x="301" y="606" width="2" height="75" fill="#bababa"/>
<rect x="317" y="600" width="2" height="81" fill="#bababa"/>
<rect x="333" y="595" width="2" height="86" fill="#bababa"/>
<rect x="349" y="595" width="2" height="86" fill="#bababa"/>
<rect x="365" y="597" width="2" height="84" fill="#bababa"/>
<rect x="381" y="600" width="2" height="81" fill="#bababa"/>
<rect x="397" y="608" width="2" height="73" fill="#bababa"/>
<rect x="413" y="622" width="2" height="59" fill="#bababa"/>
<rect x="429" y="635" width="2" height="46" fill="#bababa"/>
<rect x="445" y="631" width="2" height="50" fill="#bababa"/>
<rect x="461" y="638" width="2" height="43" fill="#bababa"/>
<rect x="477" y="633" width="2" height="48" fill="#bababa"/>
<rect x="493" y="628" width="2" height="53" fill="#bababa"/>
<rect x="509" y="625" width="2" height="56" fill="#bababa"/>
<rect x="525" y="622" width="2" height="59" fill="#bababa"/>
<rect x="541" y="623" width="2" height="58" fill="#bababa"/>
<rect x="557" y="624" width="2" height="57" fill="#bababa"/>
<rect x="573" y="633" width="2" height="48" fill="#bababa"/>
<rect x="589" y="644" width="2" height="37" fill="#bababa"/>
<rect x="605" y="653" width="2" height="28" fill="#bababa"/>
<rect x="621" y="661" width="2" height="20" fill="#bababa"/>
<rect x="637" y="667" width="2" height="14" fill="#bababa"/>
<rect x="653" y="669" width="2" height="12" fill="#bababa"/>
<rect x="669" y="674" width="2" height="7" fill="#bababa"/>
<rect x="685" y="681" width="2" height="2" fill="#bababa"/>
<rect x="701" y="681" width="2" height="10" fill="#bababa"/>
<rect x="717" y="681" width="2" height="15" fill="#bababa"/>
<rect x="733" y="681" width="2" height="13" fill="#bababa"/>
<rect x="749" y="681" width="2" height="8" fill="#bababa"/>
<rect x="765" y="681" width="2" height="1" fill="#bababa"/>
<rect x="781" y="680" width="2" height="1" fill="#bababa"/>
<rect x="797" y="681" width="2" height="1" fill="#bababa"/>
<rect x="813" y="681" width="2" height="1" fill="#bababa"/>
<rect x="829" y="681" width="2" height="2" fill="#bababa"/>
<rect x="845" y="681" width="2" height="5" fill="#bababa"/>
<rect x="861" y="681" width="2" height="6" fill="#bababa"/>
<rect x="877" y="681" width="2" height="4" fill="#bababa"/>
<rect x="893" y="680" width="2" height="1" fill="#bababa"/>
<rect x="909" y="676" width="2" height="5" fill="#bababa"/>
<rect x="925" y="673" width="2" height="8" fill="#bababa"/>
<rect x="941" y="673" width="2" height="8" fill="#bababa"/>
<rect x="957" y="674" width="2" height="7" fill="#bababa"/>
<rect x="973" y="677" width="2" height="4" fill="#bababa"/>
<rect x="1005" y="681" width="2" height="2" fill="#bababa"/>
<rect x="1021" y="681" width="2" height="6" fill="#bababa"/>
<rect x="1037" y="681" width="2" height="9" fill="#bababa"/>
<rect x="1053" y="681" width="2" height="17" fill="#bababa"/>
<rect x="1069" y="681" width="2" height="19" fill="#bababa"/>
<rect x="1085" y="681" width="2" height="21" fill="#bababa"/>
<rect x="1101" y="681" width="2" height="23" fill="#bababa"/>
<rect x="1117" y="681" width="2" height="19" fill="#bababa"/>
<rect x="1133" y="681" width="2" height="13" fill="#bababa"/>
<rect x="1149" y="681" width="2" height="13" fill="#bababa"/>
<rect x="1165" y="681" width="2" height="6" fill="#bababa"/>
<rect x="1181" y="681" width="2" height="4" fill="#bababa"/>
<rect x="1197" y="681" width="2" height="5" fill="#bababa"/>
<rect x="1213" y="681" width="2" height="10" fill="#bababa"/>
<rect x="1229" y="681" width="2" height="19" fill="#bababa"/>
<rect x="1245" y="681" width="2" height="25" fill="#bababa"/>
<rect x="1261" y="681" width="2" height="31" fill="#bababa"/>
<rect x="1277" y="681" width="2" height="37" fill="#bababa"/>
<rect x="1293" y="681" width="2" height="46" fill="#bababa"/>
<rect x="1309" y="681" width="2" height="52" fill="#bababa"/>
<rect x="1325" y="681" width="2" height="61" fill="#bababa"/>
<rect x="1341" y="681" width="2" height="67" fill="#bababa"/>
<rect x="1357" y="681" width="2" height="73" fill="#bababa"/>
<rect x="1373" y="681" width="2" height="77" fill="#bababa"/>
<rect x="1389" y="681" width="2" height="79" fill="#bababa"/>
<rect x="1405" y="681" width="2" height="79" fill="#bababa"/>
<polyline points="-1.5,632.4 14.5,636.7 30.5,640.0 46.5,643.7 62.5,647.3 78.5,651.0 94.5,654.3 110.5,658.6 126.5,661.6 142.5,664.3 158.5,666.8 174.5,666.8 190.5,665.8 206.5,664.6 222.5,662.6 238.5,660.1 254.5,655.5 270.5,651.3 286.5,645.5 302.5,638.0 318.5,631.2 334.5,624.9 350.5,619.1 366.5,612.9 382.5,609.6 398.5,606.6 414.5,605.1 430.5,607.6 446.5,609.6 462.5,613.4 478.5,618.6 494.5,621.6 510.5,625.2 526.5,627.4 542.5,628.7 558.5,629.7 574.5,629.2 590.5,630.4 606.5,632.2 622.5,635.7 638.5,640.0 654.5,645.5 670.5,651.0 686.5,657.3 702.5,664.8 718.5,671.9 734.5,676.1 750.5,679.9 766.5,682.2 782.5,683.9 798.5,685.7 814.5,686.9 830.5,686.9 846.5,686.9 862.5,686.4 878.5,684.9 894.5,683.9 910.5,683.7 926.5,682.4 942.5,681.9 958.5,680.9 974.5,679.9 990.5,679.1 1006.5,678.9 1022.5,678.9 1038.5,680.1 1054.5,682.4 1070.5,684.9 1086.5,688.9 1102.5,691.9 1118.5,695.0 1134.5,696.2 1150.5,697.0 1166.5,697.0 1182.5,697.0 1198.5,696.0 1214.5,694.0 1230.5,694.0 1246.5,694.0 1262.5,696.0 1278.5,697.7 1294.5,702.0 1310.5,706.3 1326.5,712.5 1342.5,720.1 1358.5,726.3 1374.5,732.9 1390.5,738.4 1406.5,743.2" fill="none" stroke="#ff0000" stroke-width="1" stroke-dasharray="3,3" shape-rendering="crispEdges"/>
</g>
<g clip-path="url(#crsi)">
<line x1="0" y1="803.5" x2="1626" y2="803.5" stroke="#c0c0c0" stroke-width="1" stroke-dasharray="3,3"/>
<line x1="0" y1="850.5" x2="1626" y2="850.5" stroke="#c0c0c0" stroke-width="1" stroke-dasharray="3,3"/>
<line x1="0" y1="906.5" x2="1626" y2="906.5" stroke="#c0c0c0" stroke-width="1" stroke-dasharray="3,3"/>
<polyline points="-1.5,849.6 14.5,850.8 30.5,852.9 46.5,851.8 62.5,852.9 78.5,846.6 94.5,844.8 110.5,859.9 126.5,848.6 142.5,844.6 158.5,842.1 174.5,827.7 190.5,827.7 206.5,829.0 222.5,827.2 238.5,825.7 254.5,817.4 270.5,811.4 286.5,807.2 302.5,805.9 318.5,805.9 334.5,803.6 350.5,820.0 366.5,821.7 382.5,822.7 398.5,839.5 414.5,857.1 430.5,859.9 446.5,832.8 462.5,850.1 478.5,836.0 494.5,833.8 510.5,835.0 526.5,832.5 542.5,837.8 558.5,837.8 574.5,851.8 590.5,856.9 606.5,856.9 622.5,856.9 638.5,856.9 654.5,850.8 670.5,856.9 686.5,864.9 702.5,866.9 718.5,862.1 734.5,852.1 750.5,846.6 766.5,841.8 782.5,849.8 798.5,853.9 814.5,851.8 830.5,852.9 846.5,857.9 862.5,854.9 878.5,850.8 894.5,842.1 910.5,842.1 926.5,842.1 942.5,848.8 958.5,849.1 974.5,857.9 990.5,856.9 1006.5,857.9 1022.5,864.9 1038.5,864.9 1054.5,873.9 1070.5,866.7 1086.5,867.9 1102.5,863.9 1118.5,850.8 1134.5,848.8 1150.5,850.8 1166.5,838.8 1182.5,849.8 1198.5,854.9 1214.5,865.9 1230.5,873.7 1246.5,875.9 1262.5,874.7 1278.5,878.0 1294.5,886.0 1310.5,885.0 1326.5,891.0 1342.5,891.0 1358.5,894.0 1374.5,892.0 1390.5,892.0 1406.5,885.7" fill="none" stroke="#1e90ff" stroke-width="1" shape-rendering="crispEdges"/>
</g>
<rect x="1627" y="52" width="2" height="1" fill="#000"/>
<rect x="1627" y="85" width="2" height="1" fill="#000"/>
<rect x="1627" y="118" width="2" height="1" fill="#000"/>
<rect x="1627" y="151" width="2" height="1" fill="#000"/>
<rect x="1627" y="184" width="2" height="1" fill="#000"/>
<rect x="1627" y="217" width="2" height="1" fill="#000"/>
<rect x="1627" y="250" width="2" height="1" fill="#000"/>
<rect x="1627" y="283" width="2" height="1" fill="#000"/>
<rect x="1627" y="316" width="2" height="1" fill="#000"/>
<rect x="1627" y="349" width="2" height="1" fill="#000"/>
<rect x="1627" y="382" width="2" height="1" fill="#000"/>
<rect x="1627" y="415" width="2" height="1" fill="#000"/>
<rect x="1627" y="448" width="2" height="1" fill="#000"/>
<rect x="1627" y="481" width="2" height="1" fill="#000"/>
<rect x="1627" y="514" width="2" height="1" fill="#000"/>
<rect x="1627" y="547" width="2" height="1" fill="#000"/>
<rect x="1627" y="580" width="2" height="1" fill="#000"/>
<rect x="-2" y="931" width="1" height="3" fill="#000"/>
<rect x="62" y="931" width="1" height="3" fill="#000"/>
<rect x="126" y="931" width="1" height="3" fill="#000"/>
<rect x="190" y="931" width="1" height="3" fill="#000"/>
<rect x="254" y="931" width="1" height="3" fill="#000"/>
<rect x="318" y="931" width="1" height="3" fill="#000"/>
<rect x="382" y="931" width="1" height="3" fill="#000"/>
<rect x="446" y="931" width="1" height="3" fill="#000"/>
<rect x="510" y="931" width="1" height="3" fill="#000"/>
<rect x="574" y="931" width="1" height="3" fill="#000"/>
<rect x="638" y="931" width="1" height="3" fill="#000"/>
<rect x="702" y="931" width="1" height="3" fill="#000"/>
<rect x="766" y="931" width="1" height="3" fill="#000"/>
<rect x="830" y="931" width="1" height="3" fill="#000"/>
<rect x="894" y="931" width="1" height="3" fill="#000"/>
<rect x="958" y="931" width="1" height="3" fill="#000"/>
<rect x="1022" y="931" width="1" height="3" fill="#000"/>
<rect x="1086" y="931" width="1" height="3" fill="#000"/>
<rect x="1150" y="931" width="1" height="3" fill="#000"/>
<rect x="1214" y="931" width="1" height="3" fill="#000"/>
<rect x="1278" y="931" width="1" height="3" fill="#000"/>
<rect x="1342" y="931" width="1" height="3" fill="#000"/>
<rect x="1406" y="931" width="1" height="3" fill="#000"/>
<polygon points="1440.5,31 1451.5,31 1446,36.5" fill="#b8b8b8" shape-rendering="auto"/>
</svg>
<div class="t" style="left:1632px;top:46px">149.165</div>
<div class="t" style="left:1632px;top:79px">148.535</div>
<div class="t" style="left:1632px;top:112px">147.905</div>
<div class="t" style="left:1632px;top:145px">147.275</div>
<div class="t" style="left:1632px;top:178px">146.645</div>
<div class="t" style="left:1632px;top:211px">146.015</div>
<div class="t" style="left:1632px;top:244px">145.385</div>
<div class="t" style="left:1632px;top:277px">144.770</div>
<div class="t" style="left:1632px;top:310px">144.140</div>
<div class="t" style="left:1632px;top:343px">143.510</div>
<div class="t" style="left:1632px;top:376px">142.880</div>
<div class="t" style="left:1632px;top:409px">142.250</div>
<div class="t" style="left:1632px;top:442px">141.620</div>
<div class="t" style="left:1632px;top:475px">141.005</div>
<div class="t" style="left:1632px;top:574px">139.115</div>
<div class="pl" style="top:428px;background:#ff4500">141.891</div>
<div class="pl" style="top:455px;background:#ff0000">141.382</div>
<div class="pl" style="top:483px;background:#32cd32">140.856</div>
<div class="pl" style="top:541px;background:#0000ff">139.736</div>
<div class="pl" style="top:570px;background:#0000ff">139.186</div>
<div class="pl" style="top:507px;background:#000">140.413</div>
<div class="t" style="left:1630px;top:587px">1.6109</div>
<div class="t" style="left:1630px;top:675.5px">0.00</div>
<div class="t" style="left:1630px;top:755.5px;letter-spacing:-0.6px">-1.4899</div>
<div class="t" style="left:1630px;top:771px">100</div>
<div class="t" style="left:1629px;top:797px">80</div>
<div class="t" style="left:1629px;top:844px">50</div>
<div class="t" style="left:1629px;top:900px">15</div>
<div class="t" style="left:1630px;top:917px">0</div>
<div class="t" style="left:-3px;top:934px;letter-spacing:-0.3px">6 Feb 2019</div>
<div class="t" style="left:61px;top:934px;letter-spacing:-0.3px">11 Feb 2019</div>
<div class="t" style="left:125px;top:934px;letter-spacing:-0.3px">15 Feb 2019</div>
<div class="t" style="left:189px;top:934px;letter-spacing:-0.3px">20 Feb 2019</div>
<div class="t" style="left:253px;top:934px;letter-spacing:-0.3px">25 Feb 2019</div>
<div class="t" style="left:317px;top:934px;letter-spacing:-0.3px">1 Mar 2019</div>
<div class="t" style="left:381px;top:934px;letter-spacing:-0.3px">6 Mar 2019</div>
<div class="t" style="left:445px;top:934px;letter-spacing:-0.3px">11 Mar 2019</div>
<div class="t" style="left:509px;top:934px;letter-spacing:-0.3px">15 Mar 2019</div>
<div class="t" style="left:573px;top:934px;letter-spacing:-0.3px">20 Mar 2019</div>
<div class="t" style="left:637px;top:934px;letter-spacing:-0.3px">25 Mar 2019</div>
<div class="t" style="left:701px;top:934px;letter-spacing:-0.3px">29 Mar 2019</div>
<div class="t" style="left:765px;top:934px;letter-spacing:-0.3px">3 Apr 2019</div>
<div class="t" style="left:829px;top:934px;letter-spacing:-0.3px">8 Apr 2019</div>
<div class="t" style="left:893px;top:934px;letter-spacing:-0.3px">12 Apr 2019</div>
<div class="t" style="left:957px;top:934px;letter-spacing:-0.3px">17 Apr 2019</div>
<div class="t" style="left:1021px;top:934px;letter-spacing:-0.3px">23 Apr 2019</div>
<div class="t" style="left:1085px;top:934px;letter-spacing:-0.3px">28 Apr 2019</div>
<div class="t" style="left:1149px;top:934px;letter-spacing:-0.3px">2 May 2019</div>
<div class="t" style="left:1213px;top:934px;letter-spacing:-0.3px">7 May 2019</div>
<div class="t" style="left:1277px;top:934px;letter-spacing:-0.3px">12 May 2019</div>
<div class="t" style="left:1341px;top:934px;letter-spacing:-0.3px">16 May 2019</div>
<div class="t" style="left:1405px;top:934px;letter-spacing:-0.3px">21 May 2019</div>
<div class="t" style="left:2px;top:588.5px;letter-spacing:-0.3px">MACD(12,26,9) -1.3426 -1.0767</div>
<div class="t" style="left:2px;top:773px;letter-spacing:-0.3px">RSI(14) 28.1651</div>
<div class="t" style="left:13px;top:32.5px;letter-spacing:-0.25px">GBPJPY-,Daily</div>
<div class="t" style="left:82px;top:32.5px;letter-spacing:-0.4px;word-spacing:0.3px">140.094 141.716 139.636 140.413</div>
<svg style="position:absolute;left:1px;top:35.5px" width="8" height="6"><polygon points="0,5 7,5 3.5,1" fill="#000"/></svg>
<div id="big" style="position:absolute;left:1017px;top:492.5px;font-size:32px;line-height:40px;font-weight:bold;color:#00ff00;white-space:nowrap;text-shadow:1px 1px 0 #1e641e;font-family:'Liberation Sans','Noto Serif CJK SC',serif"><span style="font-size:30.5px;letter-spacing:2.3px;font-weight:600;position:relative;top:-0.5px;margin-right:1.6px">多空转折点</span>140.856</div>
<div style="position:absolute;left:1px;top:50px;width:52px;height:25px;background:linear-gradient(#f24c4c,#dc3232);box-shadow:inset 0 0 0 1px rgba(190,0,0,.6)"></div>
<div style="position:absolute;left:168px;top:50px;width:52px;height:25px;background:linear-gradient(#f24c4c,#dc3232);box-shadow:inset 0 0 0 1px rgba(190,0,0,.6)"></div>
<div style="position:absolute;left:1px;top:74px;width:109px;height:40px;background:linear-gradient(#d93030,#b40000)"></div>
<div style="position:absolute;left:112px;top:74px;width:108px;height:40px;background:linear-gradient(#d93030,#b40000)"></div>
<div style="position:absolute;left:5px;top:73px;width:44px;height:1px;background:#f79090"></div>
<div style="position:absolute;left:172px;top:73px;width:44px;height:1px;background:#f79090"></div>
<div style="position:absolute;left:1px;top:54px;width:52px;text-align:center;color:#fff;font-size:11.5px;line-height:16px;letter-spacing:-.4px">SELL</div>
<div style="position:absolute;left:168px;top:54px;width:52px;text-align:center;color:#fff;font-size:11.5px;line-height:16px;letter-spacing:-.4px">BUY</div>
<div style="position:absolute;left:55px;top:50px;width:111px;height:22px;box-sizing:border-box;border:1px solid #acacac;background:#fff"></div>
<div style="position:absolute;left:56px;top:51px;width:20px;height:20px;background:#e6e6e6;border-right:1px solid #acacac;box-sizing:border-box"></div>
<div style="position:absolute;left:144px;top:51px;width:21px;height:20px;background:#e6e6e6;border-left:1px solid #acacac;box-sizing:border-box"></div>
<svg style="position:absolute;left:55px;top:50px" width="111" height="22"><polygon points="7.5,9.6 13,9.6 10.2,12.8" fill="#000"/><polygon points="96.6,12.4 102.2,12.4 99.4,9.2" fill="#000"/></svg>
<div style="position:absolute;left:76px;top:52px;width:65px;text-align:right;color:#000;font-size:13px;line-height:18px">1.00</div>
<div style="position:absolute;left:24.5px;top:93px;color:#fff;font-size:12.5px;font-weight:bold;line-height:14px;letter-spacing:-.2px">140</div>
<div style="position:absolute;left:48px;top:74px;color:#fff;font-size:32px;line-height:40px;letter-spacing:-2.6px">41</div>
<div style="position:absolute;left:88.5px;top:78px;color:#fff;font-size:12px;font-weight:bold;line-height:14px">3</div>
<div style="position:absolute;left:134.5px;top:93px;color:#fff;font-size:12.5px;font-weight:bold;line-height:14px;letter-spacing:-.2px">140</div>
<div style="position:absolute;left:158px;top:74px;color:#fff;font-size:32px;line-height:40px;letter-spacing:-2.6px">45</div>
<div style="position:absolute;left:198.5px;top:78px;color:#fff;font-size:12px;font-weight:bold;line-height:14px">6</div>
</body></html>
